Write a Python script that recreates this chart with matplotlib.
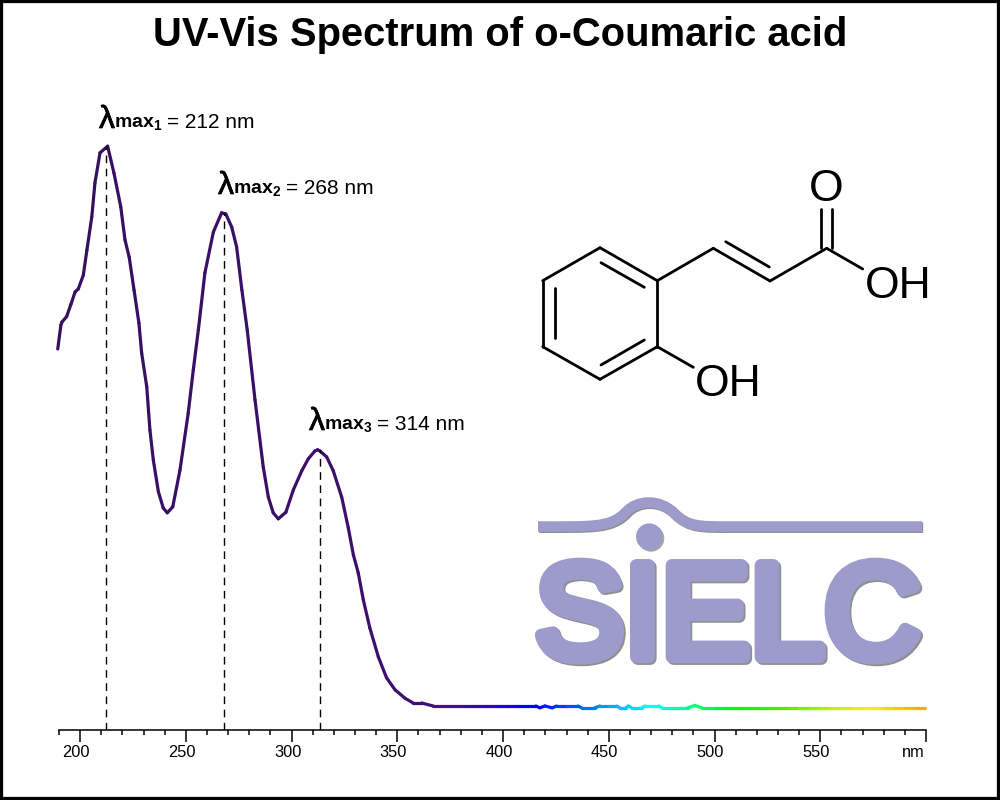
import numpy as np
import matplotlib
matplotlib.use("Agg")
import matplotlib.pyplot as plt
import matplotlib.patheffects as pe
from matplotlib.collections import LineCollection
from matplotlib.colors import LinearSegmentedColormap, Normalize
from matplotlib.path import Path
from matplotlib.patches import PathPatch, Circle, Rectangle
from matplotlib.transforms import ScaledTranslation

plt.rcParams['font.family'] = ['Liberation Sans', 'DejaVu Sans']
plt.rcParams['mathtext.fontset'] = 'custom'
plt.rcParams['mathtext.rm'] = 'Liberation Sans'
plt.rcParams['mathtext.bf'] = 'Liberation Sans:bold'

# Spectrum
wavelength = [189.4, 190.9, 191.4, 193.6, 195.7, 197.6, 199.1, 201.5, 203.2, 205.5,
              207.0, 209.4, 213.0, 216.0, 219.2, 221.2, 223.2, 225.5, 227.8, 229.1,
              231.5, 233.0, 234.6, 237.0, 239.3, 241.2, 243.8, 247.2, 251.1, 253.5,
              255.9, 259.0, 263.0, 266.9, 268.9, 271.7, 274.0, 276.5, 279.0, 282.7,
              286.6, 289.0, 291.3, 293.7, 297.3, 300.8, 304.8, 307.9, 311.0, 312.3,
              313.4, 316.6, 319.7, 323.7, 326.8, 329.2, 331.5, 333.9, 337.0, 341.0,
              344.9, 348.9, 353.6, 357.5, 361.5, 367.0, 372, 377, 382, 387,
              392, 397, 402, 407, 412, 415.5, 417.4, 419.8, 423.2, 425.3,
              430, 435.4, 437.1, 443.4, 445.8, 450, 453.7, 455.2, 458.1, 459.2,
              460.8, 465.5, 467.1, 473.7, 475.3, 480, 487.4, 490.7, 493.9, 500,
              505, 510, 515, 520, 525, 530, 535, 540, 545, 550,
              555, 560, 565, 570, 575, 580, 585, 590, 595, 599.5]
absorbance = [.635, .675, .680, .689, .710, .730, .735, .758, .800, .855,
              .912, .962, .973, .928, .872, .817, .788, .733, .678, .628,
              .572, .500, .450, .397, .370, .362, .372, .433, .528, .600,
              .667, .762, .830, .862, .860, .838, .805, .733, .667, .550,
              .438, .388, .362, .352, .363, .400, .432, .452, .465, .467,
              .465, .455, .432, .388, .337, .292, .262, .217, .170, .122,
              .087, .067, .053, .045, .045, .040, .040, .040, .040, .040,
              .040, .040, .040, .040, .040, .040, .037, .040, .037, .040,
              .040, .040, .037, .037, .040, .040, .040, .037, .037, .040,
              .037, .037, .040, .040, .037, .037, .037, .041, .037, .037,
              .037, .037, .037, .037, .037, .037, .037, .037, .037, .037,
              .037, .037, .037, .037, .037, .037, .037, .037, .037, .037]

# Peaks
peak_x = [212, 268, 313.3]
peak_top = [.973, .862, .467]
peak_labels = ["212", "268", "314"]
label_pos = [(99, 128), (218, 194), (309, 430)]

# Colours along the spectrum
color_nm = [190, 360, 372, 400, 415, 440, 470, 490, 510, 530, 560, 575, 600]
color_hex = ['#360f5f', '#3d0f70', '#4a1090', '#2200dd', '#0000ff', '#0070ff', '#00ffff',
             '#00ff80', '#00ff00', '#40f000', '#d0f000', '#ffee00', '#ffa500']

x_major = [200, 250, 300, 350, 400, 450, 500, 550, 600]
x_labels = ["200", "250", "300", "350", "400", "450", "500", "550", "nm"]
x_minor = [190, 210, 220, 230, 240, 260, 270, 280, 290, 310, 320, 330, 340, 360, 370,
           380, 390, 410, 420, 430, 440, 460, 470, 480, 490, 510, 520, 530, 540, 560,
           570, 580, 590]

# Structure of the molecule, in pixels of the picture
bonds = [
    ((600, 247.7), (657.3, 280.7)), ((657.3, 280.7), (657.3, 346.7)),
    ((657.3, 346.7), (600, 379.3)), ((600, 379.3), (542.7, 346.7)),
    ((542.7, 346.7), (542.7, 280.7)), ((542.7, 280.7), (600, 247.7)),
    ((601, 262.7), (644.3, 287.3)), ((601, 365), (644.3, 340)), ((555, 288.3), (555, 338.3)),
    ((657.3, 280.7), (713.3, 248.3)), ((713.3, 248.3), (770, 281)),
    ((725.7, 241.7), (769.3, 267)), ((770, 281), (826.7, 248.3)),
    ((820.7, 248), (820.7, 209)), ((832.3, 248), (832.3, 209)),
    ((826.7, 248.3), (862.7, 269)), ((657.3, 346.7), (693.3, 367.3)),
]
atoms = [("O", 826, 185), ("OH", 898, 282.5), ("OH", 728.5, 380)]

LOGO = '#9d9bcc'
SHADOW = '#8f8f8f'

fig = plt.figure(figsize=(10, 8), dpi=100)
ax = fig.add_axes([0.059, 70 / 800, 0.867, 600 / 800])
over = fig.add_axes([0, 0, 1, 1], zorder=3)
over.set_xlim(0, 1000)
over.set_ylim(800, 0)
over.axis('off')

# Spectrum line
x = np.array(wavelength)
y = np.array(absorbance)
cmap = LinearSegmentedColormap.from_list(
    'spectrum', [((n - 190) / 410, c) for n, c in zip(color_nm, color_hex)])
pts = np.column_stack([x, y])
segs = np.stack([pts[:-1], pts[1:]], axis=1)
lc = LineCollection(segs, cmap=cmap, norm=Normalize(190, 600), linewidths=2.3,
                    capstyle='round', joinstyle='round', clip_on=False)
lc.set_array((x[:-1] + x[1:]) / 2)
ax.add_collection(lc)

ax.vlines(peak_x, 0, peak_top, colors='black', linewidths=1.0, linestyles=(0, (5.5, 4)))

# Axis
ax.set_xlim(190, 600)
ax.set_ylim(0, 1)
ax.patch.set_visible(False)
for s in ['top', 'left', 'right']:
    ax.spines[s].set_visible(False)
ax.spines['bottom'].set_linewidth(1.1)
ax.set_yticks([])
ax.set_xticks(x_major)
ax.set_xticklabels(x_labels, fontsize=11.8)
ax.set_xticks(x_minor, minor=True)
ax.tick_params(axis='x', which='major', length=8.6, width=1.1, pad=2)
ax.tick_params(axis='x', which='minor', length=3.6, width=1.1)
for lab, txt in zip(ax.get_xticklabels(), x_labels):
    dx = -13 if txt == "nm" else -4
    lab.set_transform(lab.get_transform() + ScaledTranslation(dx / 100, 0, fig.dpi_scale_trans))

# Title
fig.text(0.5, 1 - 45.5 / 800, "UV-Vis Spectrum of o-Coumaric acid", ha='center', va='baseline',
         fontsize=28.8, fontweight='bold')

# Peak labels
for (px, py), nm, i in zip(label_pos, peak_labels, [1, 2, 3]):
    over.text(px, py, "\u03bb", fontsize=23, ha='left', va='baseline',
              path_effects=[pe.withStroke(linewidth=0.5, foreground='black')])
    over.text(px + 15, py, r"$\mathbf{max}_{\mathbf{%d}}$" % i, fontsize=14, ha='left', va='baseline')
    over.text(px + 68, py, "= %s nm" % nm, fontsize=15, ha='left', va='baseline')

# Molecule
over.add_collection(LineCollection(bonds, colors='black', linewidths=2.0, capstyle='round'))
for label, ax_x, ax_y in atoms:
    over.text(ax_x, ax_y, label, fontsize=32, ha='center', va='center_baseline')

# SIELC logo
shadow = [pe.SimplePatchShadow(offset=(1.2, -1.2), shadow_rgbFace=SHADOW, alpha=0.8), pe.Normal()]
bump = Path([(538, 526.5), (590, 526.5), (610, 528), (625, 513), (637, 499), (660, 499),
             (674, 513), (688, 527), (700, 526.5), (730, 526.5), (922, 526.5)],
            [Path.MOVETO, Path.CURVE4, Path.CURVE4, Path.CURVE4, Path.CURVE4, Path.CURVE4,
             Path.CURVE4, Path.CURVE4, Path.CURVE4, Path.CURVE4, Path.LINETO])
over.add_patch(PathPatch(bump, fill=False, edgecolor=SHADOW, linewidth=7.6, capstyle='butt',
                         transform=over.transData + ScaledTranslation(0.012, -0.012, fig.dpi_scale_trans)))
over.add_patch(PathPatch(bump, fill=False, edgecolor=LOGO, linewidth=7.6, capstyle='butt'))
over.add_patch(Circle((649.3, 536.7), 13.3, facecolor=LOGO, edgecolor='none', path_effects=shadow))
over.text(535, 657, "SIELC", fontsize=96, color=LOGO, ha='left', va='baseline',
          path_effects=[
              pe.Stroke(linewidth=9, foreground=SHADOW, offset=(1.2, -1.2), joinstyle='round'),
              pe.Stroke(linewidth=9, foreground=LOGO, joinstyle='round'),
              pe.Normal()])

# Border
fig.add_artist(Rectangle((0, 0), 1, 1, transform=fig.transFigure, fill=False,
                         edgecolor='black', linewidth=4.5))

fig.savefig("out.png", dpi=100)
